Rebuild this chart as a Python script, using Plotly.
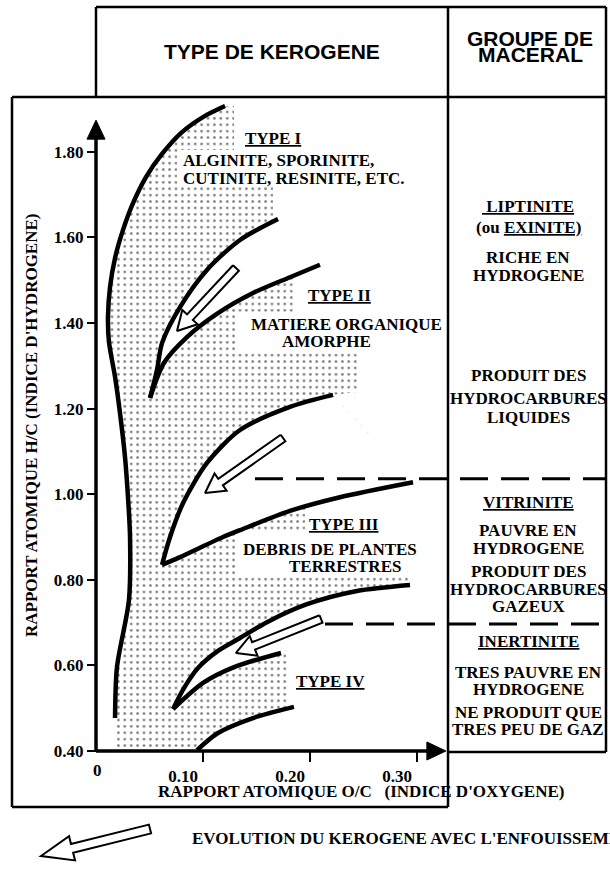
import math
import plotly.graph_objects as go

# ---------------- DATA (O/C , H/C) ----------------
env_oc = [0.1206, 0.1019, 0.0804, 0.0617, 0.0467, 0.0346, 0.0252, 0.0178, 0.0131, 0.0112,
          0.0121, 0.0178, 0.0224, 0.0271, 0.0299, 0.0318, 0.0308, 0.0196, 0.0178]
env_hc = [1.907, 1.884, 1.846, 1.795, 1.741, 1.680, 1.617, 1.552, 1.484, 1.414,
          1.356, 1.274, 1.190, 1.087, 0.993, 0.900, 0.753, 0.596, 0.477]

t2_outer_oc = [0.1701, 0.1346, 0.1037, 0.0785, 0.0617, 0.0570, 0.0505]
t2_outer_hc = [1.643, 1.594, 1.524, 1.437, 1.353, 1.290, 1.225]
t2_inner_oc = [0.0505, 0.0636, 0.0850, 0.1140, 0.1467, 0.1813, 0.2093]
t2_inner_hc = [1.225, 1.307, 1.367, 1.423, 1.470, 1.507, 1.536]

t3_outer_oc = [0.2215, 0.1813, 0.1346, 0.1037, 0.0813, 0.0692, 0.0617]
t3_outer_hc = [1.232, 1.204, 1.150, 1.073, 0.979, 0.900, 0.835]
t3_inner_oc = [0.0617, 0.0785, 0.1187, 0.1346, 0.1813, 0.2280, 0.2963]
t3_inner_hc = [0.835, 0.853, 0.900, 0.916, 0.961, 0.993, 1.028]

t4_outer_oc = [0.2935, 0.2439, 0.1972, 0.1598, 0.1346, 0.1140, 0.0953, 0.0822, 0.0720]
t4_outer_hc = [0.788, 0.774, 0.743, 0.701, 0.664, 0.634, 0.594, 0.547, 0.498]
t4_inner_oc = [0.0720, 0.1000, 0.1290, 0.1729]
t4_inner_hc = [0.498, 0.559, 0.596, 0.629]

t4_base_oc = [0.0944, 0.1140, 0.1467, 0.1850]
t4_base_hc = [0.402, 0.442, 0.477, 0.503]

# stippled area outline (right-hand stepped edge), closed by the envelope curve
stip_oc = [0.1290, 0.1290, 0.0757, 0.0757, 0.1654, 0.1654, 0.1869, 0.1869, 0.1327, 0.1327,
           0.2439, 0.2439, 0.2215, 0.2963, 0.2280, 0.1953, 0.1953, 0.1308, 0.1308, 0.2935,
           0.2935, 0.2439, 0.1972, 0.1794, 0.1794, 0.1467, 0.1140, 0.0944, 0.0178]
stip_hc = [1.907, 1.804, 1.804, 1.720, 1.720, 1.594, 1.594, 1.426, 1.426, 1.335,
           1.335, 1.239, 1.232, 1.028, 0.993, 0.975, 0.912, 0.912, 0.807, 0.807,
           0.788, 0.774, 0.743, 0.724, 0.498, 0.477, 0.442, 0.407, 0.407]

# evolution arrows: tail -> tip
arrow_tail_oc = [0.1308, 0.1748, 0.2103]
arrow_tail_hc = [1.5285, 1.1313, 0.7084]
arrow_tip_oc = [0.0757, 0.1019, 0.1308]
arrow_tip_hc = [1.3813, 1.0028, 0.6290]

# maceral limits (dashed)
limit_hc = [1.036, 0.697]
limit_start_oc = [0.1486, 0.2140]
limit_end_oc = 0.4766

x_tickvals = [0.10, 0.20, 0.30]
x_ticktext = ["0.10", "0.20", "0.30"]
y_tickvals = [0.40, 0.60, 0.80, 1.00, 1.20, 1.40, 1.60, 1.80]
y_ticktext = ["0.40", "0.60", "0.80", "1.00", "1.20", "1.40", "1.60", "1.80"]
axis_end_oc = 0.327
axis_end_hc = 1.874

# ---------------- LAYOUT GEOMETRY ----------------
W, H = 610, 872
X0PX, XS = 96, 1070.0   # pixel of O/C = 0, pixels per unit O/C
Y0PX, YS = 751, 428.0   # pixel of H/C = 0.40, pixels per unit H/C
SERIF = "Liberation Serif"
SANS = "Liberation Sans"


def d2p(oc, hc):
    return X0PX + XS * oc, Y0PX - YS * (hc - 0.40)


def p2d(x, y):
    return (x - X0PX) / XS, 0.40 + (Y0PX - y) / YS


def arrow_px(tail, tip, sw, hw, hl):
    (x1, y1), (x2, y2) = tail, tip
    dx, dy = x2 - x1, y2 - y1
    L = math.hypot(dx, dy)
    ux, uy = dx / L, dy / L
    nx, ny = -uy, ux
    bx, by = x2 - ux * hl, y2 - uy * hl
    return [(x1 + nx * sw / 2, y1 + ny * sw / 2), (bx + nx * sw / 2, by + ny * sw / 2),
            (bx + nx * hw / 2, by + ny * hw / 2), (x2, y2),
            (bx - nx * hw / 2, by - ny * hw / 2), (bx - nx * sw / 2, by - ny * sw / 2),
            (x1 - nx * sw / 2, y1 - ny * sw / 2), (x1 + nx * sw / 2, y1 + ny * sw / 2)]


fig = go.Figure()

# stippled area
poly_oc = stip_oc + env_oc[::-1]
poly_hc = stip_hc + env_hc[::-1]
fig.add_trace(go.Scatter(x=poly_oc, y=poly_hc, mode="lines", fill="toself",
                         fillcolor="white", line=dict(width=0),
                         fillpattern=dict(shape=".", size=6.4, solidity=0.14,
                                          fgcolor="black", bgcolor="white"),
                         hoverinfo="skip"))
# white bands between the paired curves
for a_oc, a_hc, b_oc, b_hc in [(t2_outer_oc, t2_outer_hc, t2_inner_oc, t2_inner_hc),
                               (t3_outer_oc, t3_outer_hc, t3_inner_oc, t3_inner_hc),
                               (t4_outer_oc, t4_outer_hc, t4_inner_oc, t4_inner_hc)]:
    fig.add_trace(go.Scatter(x=a_oc + b_oc, y=a_hc + b_hc, mode="lines", fill="toself",
                             fillcolor="white", line=dict(width=0), hoverinfo="skip"))

# thick curves
for c_oc, c_hc in [(env_oc, env_hc), (t2_outer_oc, t2_outer_hc), (t2_inner_oc, t2_inner_hc),
                   (t3_outer_oc, t3_outer_hc), (t3_inner_oc, t3_inner_hc),
                   (t4_outer_oc, t4_outer_hc), (t4_inner_oc, t4_inner_hc),
                   (t4_base_oc, t4_base_hc)]:
    fig.add_trace(go.Scatter(x=c_oc, y=c_hc, mode="lines",
                             line=dict(color="black", width=4.5, shape="spline", smoothing=0.8),
                             hoverinfo="skip"))

# axes lines with arrow heads
fig.add_trace(go.Scatter(x=[0, 0], y=[0.40, axis_end_hc - 0.02], mode="lines",
                         line=dict(color="black", width=3.5), hoverinfo="skip"))
fig.add_trace(go.Scatter(x=[0, axis_end_oc - 0.01], y=[0.40, 0.40], mode="lines",
                         line=dict(color="black", width=3.5), hoverinfo="skip"))
tx, ty = d2p(0, axis_end_hc)
head = [p2d(tx, ty), p2d(tx - 9, ty + 19), p2d(tx + 9, ty + 19), p2d(tx, ty)]
fig.add_trace(go.Scatter(x=[p[0] for p in head], y=[p[1] for p in head], mode="lines",
                         fill="toself", fillcolor="black", line=dict(color="black", width=1),
                         hoverinfo="skip"))
tx, ty = d2p(axis_end_oc, 0.40)
head = [p2d(tx, ty), p2d(tx - 19, ty - 9), p2d(tx - 19, ty + 9), p2d(tx, ty)]
fig.add_trace(go.Scatter(x=[p[0] for p in head], y=[p[1] for p in head], mode="lines",
                         fill="toself", fillcolor="black", line=dict(color="black", width=1),
                         hoverinfo="skip"))

# dashed maceral limits
for hc, oc0 in zip(limit_hc, limit_start_oc):
    fig.add_trace(go.Scatter(x=[oc0, limit_end_oc], y=[hc, hc], mode="lines",
                             line=dict(color="black", width=3, dash="28px,13px"),
                             hoverinfo="skip"))

# hollow evolution arrows
for t_oc, t_hc, p_oc, p_hc in zip(arrow_tail_oc, arrow_tail_hc, arrow_tip_oc, arrow_tip_hc):
    pts = arrow_px(d2p(t_oc, t_hc), d2p(p_oc, p_hc), 8, 21, 19)
    dpts = [p2d(x, y) for x, y in pts]
    fig.add_trace(go.Scatter(x=[p[0] for p in dpts], y=[p[1] for p in dpts], mode="lines",
                             fill="toself", fillcolor="white",
                             line=dict(color="black", width=2), hoverinfo="skip"))

# ---------------- frame ----------------
shapes = []


def seg(x0, y0, x1, y1, w=2.5):
    shapes.append(dict(type="line", xref="paper", yref="paper",
                       x0=x0 / W, y0=1 - y0 / H, x1=x1 / W, y1=1 - y1 / H,
                       line=dict(color="black", width=w)))


seg(96, 7, 606, 7)
seg(96, 7, 96, 97)
seg(606, 7, 606, 752)
seg(448, 7, 448, 807)
seg(12, 97, 606, 97)
seg(12, 97, 12, 807)
seg(12, 807, 448, 807)
seg(448, 752, 606, 752)

# legend arrow (paper coordinates)
lp = arrow_px((150, 829), (41, 856), 9, 25, 32)
path = "M " + " L ".join(f"{x / W:.5f},{1 - y / H:.5f}" for x, y in lp) + " Z"
shapes.append(dict(type="path", xref="paper", yref="paper", path=path,
                   fillcolor="white", line=dict(color="black", width=2)))

# ---------------- texts ----------------
annos = []


def txt(s, x, y, size=17, family=SERIF, xanchor="center", angle=0):
    annos.append(dict(text=s, x=x / W, y=1 - y / H, xref="paper", yref="paper",
                      xanchor=xanchor, yanchor="middle", showarrow=False, textangle=angle,
                      font=dict(family=family, size=size, color="black", weight="bold")))


txt("TYPE DE KEROGENE", 272, 51, 21, SANS)
txt("GROUPE DE", 530, 39, 21, SANS)
txt("MACERAL", 530, 55, 21, SANS)

txt("<u>TYPE I</u>", 273, 138)
txt("ALGINITE, SPORINITE,", 181, 161, xanchor="left")
txt("CUTINITE, RESINITE, ETC.", 181, 178, xanchor="left")
txt("<u>TYPE II</u>", 339, 296)
txt("MATIERE ORGANIQUE", 346, 324)
txt("AMORPHE", 326, 342)
txt("<u>TYPE III</u>", 344, 524)
txt("DEBRIS DE PLANTES", 330, 549)
txt("TERRESTRES", 345, 566)
txt("<u>TYPE IV</u>", 330, 681)

mx = 528
for s, y in [("<u> LIPTINITE</u>", 207), ("(ou <u>EXINITE)</u>", 227), ("RICHE EN", 257),
             ("HYDROGENE", 275), ("PRODUIT DES", 375), ("HYDROCARBURES", 398),
             ("LIQUIDES", 417), ("<u>VITRINITE</u>", 502), ("PAUVRE EN", 530),
             ("HYDROGENE", 548), ("PRODUIT DES", 571), ("HYDROCARBURES", 589),
             ("GAZEUX", 606), ("<u>INERTINITE</u>", 641), ("TRES PAUVRE EN", 672),
             ("HYDROGENE", 689), ("NE PRODUIT QUE", 712), ("TRES PEU DE GAZ", 729)]:
    txt(s, mx, y)

txt("0", 97, 770)
txt("RAPPORT ATOMIQUE O/C&nbsp;&nbsp; (INDICE D'OXYGENE)", 361, 791)
txt("RAPPORT ATOMIQUE H/C (INDICE D'HYDROGENE)", 32, 425, angle=-90)
txt("EVOLUTION DU KEROGENE AVEC L'ENFOUISSEMENT", 190, 838, xanchor="left")

fig.update_layout(
    width=W, height=H, autosize=False,
    margin=dict(l=0, r=0, t=0, b=0),
    paper_bgcolor="white", plot_bgcolor="white",
    showlegend=False,
    shapes=shapes, annotations=annos,
    xaxis=dict(domain=[0, 1], range=[-X0PX / XS, (W - X0PX) / XS],
               anchor="free", position=1 - Y0PX / H,
               showgrid=False, zeroline=False, showline=False,
               tickmode="array", tickvals=x_tickvals, ticktext=x_ticktext,
               ticks="outside", ticklen=10, tickwidth=2, tickcolor="black",
               ticklabelshift=-20,
               tickfont=dict(family=SERIF, size=17, color="black", weight="bold")),
    yaxis=dict(domain=[0, 1], range=[0.40 - (H - Y0PX) / YS, 0.40 + Y0PX / YS],
               anchor="free", position=X0PX / W,
               showgrid=False, zeroline=False, showline=False,
               tickmode="array", tickvals=y_tickvals, ticktext=y_ticktext,
               ticks="outside", ticklen=9, tickwidth=2, tickcolor="black",
               tickfont=dict(family=SERIF, size=17, color="black", weight="bold")),
)

fig.write_html("out.html", config={"displayModeBar": False},
               post_script="document.body.style.margin='0';document.body.style.overflow='hidden';")
